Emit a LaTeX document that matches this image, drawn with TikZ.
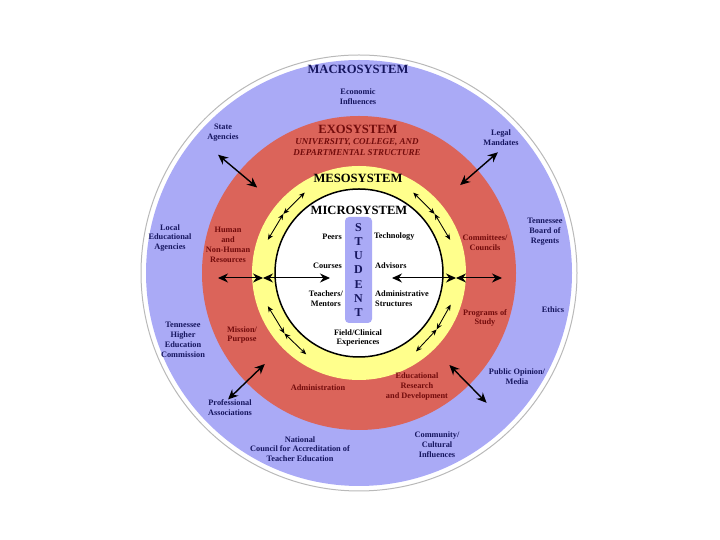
\documentclass[tikz,border=0pt]{standalone}
\usepackage{fontspec}
\setmainfont{Liberation Serif}
\usepackage{tikz}
\usetikzlibrary{arrows.meta, calc}

\definecolor{macrofill}{RGB}{170,170,246}
\definecolor{exofill}{RGB}{219,100,90}
\definecolor{mesofill}{RGB}{255,255,140}
\definecolor{macrotext}{RGB}{22,22,95}
\definecolor{exotext}{RGB}{115,12,12}

\begin{document}
\begin{tikzpicture}[
    x=1pt, y=1pt,
    systemtitle/.style={inner sep=0pt, font=\fontsize{12.6}{14}\selectfont\bfseries},
    macrolabel/.style={inner sep=0pt, align=center, text=macrotext, font=\fontsize{8.3}{9.8}\selectfont\bfseries},
    exolabel/.style={inner sep=0pt, align=center, text=exotext, font=\fontsize{8.3}{9.8}\selectfont\bfseries},
    microlabel/.style={inner sep=0pt, align=center, text=black, font=\fontsize{8.3}{9.4}\selectfont\bfseries},
    studentbox/.style={rectangle, rounded corners=4pt, minimum width=27pt, minimum height=106pt, fill=macrofill, text=macrotext, align=center, font=\fontsize{12}{14.3}\selectfont\bfseries},
    bigarrow/.style={line width=1.4pt, {Stealth[length=10pt,width=9pt]}-{Stealth[length=10pt,width=9pt]}},
    linkarrow/.style={line width=1pt, {Stealth[length=10pt,width=9pt]}-{Stealth[length=10pt,width=9pt]}},
    smallarrow/.style={line width=0.85pt, {Stealth[length=6pt,width=5pt]}-{Stealth[length=6pt,width=5pt]}},
]
    \useasboundingbox (0,0) rectangle (720,540);
    \coordinate (c) at (359,267);

    % Rings
    \draw [gray!55, line width=1pt] (c) circle [radius=218pt];
    \fill [macrofill] (c) circle [radius=213pt];
    \fill [exofill] (c) circle [radius=157pt];
    \fill [mesofill] (c) circle [radius=107pt];
    \draw [black, fill=white, line width=1.5pt] (c) circle [radius=84pt];

    % Macrosystem
    \node (macro_title) [systemtitle, text=macrotext] at (358,471) {MACROSYSTEM};
    \node (econ) [macrolabel] at (358,443) {Economic\\Influences};
    \node (state_agencies) [macrolabel] at (223,407) {State\\Agencies};
    \node (legal_mandates) [macrolabel] at (501,402.5) {Legal\\Mandates};
    \node (local_agencies) [macrolabel] at (170,302) {Local\\Educational\\Agencies};
    \node (board_regents) [macrolabel] at (545,308) {Tennessee\\Board of\\Regents};
    \node (ethics) [macrolabel] at (553,230) {Ethics};
    \node (thec) [macrolabel] at (183,200) {Tennessee\\Higher\\Education\\Commission};
    \node (public_opinion) [macrolabel] at (517,163.5) {Public Opinion/\\Media};
    \node (prof_assoc) [macrolabel] at (230,132) {Professional\\Associations};
    \node (ncate) [macrolabel] at (300,91) {National\\Council for Accreditation of\\Teacher Education};
    \node (community) [macrolabel] at (437,95.5) {Community/\\Cultural\\Influences};

    % Exosystem
    \node (exo_title) [systemtitle, text=exotext] at (358,411) {EXOSYSTEM};
    \node (exo_sub) [inner sep=0pt, align=center, text=exotext, font=\fontsize{9}{11}\selectfont\bfseries\itshape] at (357,392.5) {UNIVERSITY, COLLEGE, AND\\DEPARTMENTAL STRUCTURE};
    \node (resources) [exolabel] at (228,295) {Human\\and\\Non-Human\\Resources};
    \node (committees) [exolabel] at (485,297) {Committees/\\Councils};
    \node (programs) [exolabel] at (485,222) {Programs of\\Study};
    \node (mission) [exolabel] at (242,205) {Mission/\\Purpose};
    \node (administration) [exolabel] at (318,152) {Administration};
    \node (research) [exolabel] at (417,153.5) {Educational\\Research\\and Development};

    % Mesosystem and microsystem
    \node (meso_title) [systemtitle] at (358,362) {MESOSYSTEM};
    \node (micro_title) [systemtitle] at (359,330) {MICROSYSTEM};
    \node (student) [studentbox] at (358.5,270) {S\\T\\U\\D\\E\\N\\T};
    \node (peers) [microlabel, anchor=east] at (342,303) {Peers};
    \node (technology) [microlabel, anchor=west] at (374,303) {Technology};
    \node (courses) [microlabel, anchor=east] at (342,274) {Courses};
    \node (advisors) [microlabel, anchor=west] at (375,274) {Advisors};
    \node (teachers) [microlabel, anchor=east] at (343,241.5) {Teachers/\\Mentors};
    \node (admin_struct) [microlabel, anchor=west, align=left] at (375,241.5) {Administrative\\Structures};
    \node (field) [microlabel] at (358,202) {Field/Clinical\\Experiences};

    % Arrows between exosystem and macrosystem
    \coordinate (state_out) at ($(c)+(140:184)$);
    \coordinate (state_in) at ($(c)+(140:133)$);
    \coordinate (legal_out) at ($(c)+(41:184)$);
    \coordinate (legal_in) at ($(c)+(41:134)$);
    \coordinate (prof_out) at ($(c)+(224:182)$);
    \coordinate (prof_in) at ($(c)+(224:131)$);
    \coordinate (public_out) at ($(c)+(-45.5:182)$);
    \coordinate (public_in) at ($(c)+(-45.5:129)$);
    \draw [bigarrow] (state_out) -- (state_in);
    \draw [bigarrow] (legal_out) -- (legal_in);
    \draw [bigarrow] (prof_out) -- (prof_in);
    \draw [bigarrow] (public_out) -- (public_in);

    % Horizontal links
    \coordinate (left_out) at (218,262);
    \coordinate (left_mid) at (263,262);
    \coordinate (left_in) at (330,262);
    \coordinate (right_in) at (392,262);
    \coordinate (right_mid) at (456,262);
    \coordinate (right_out) at (502,262);
    \draw [linkarrow] (left_out) -- (left_mid);
    \draw [linkarrow] (left_mid) -- (left_in);
    \draw [linkarrow] (right_in) -- (right_mid);
    \draw [linkarrow] (right_mid) -- (right_out);

    % Mesosystem arrows
    \foreach \a/\b/\d [count=\i] in {124/142/160, 56/38/20, 200/219/237, -19/-36/-54} {
        \coordinate (meso_a\i) at ($(c)+(\a:97)$);
        \coordinate (meso_b\i) at ($(c)+(\b:96)$);
        \coordinate (meso_d\i) at ($(c)+(\d:97)$);
        \draw [smallarrow] (meso_a\i) -- (meso_b\i);
        \draw [smallarrow] (meso_b\i) -- (meso_d\i);
    }

\end{tikzpicture}
\end{document}
